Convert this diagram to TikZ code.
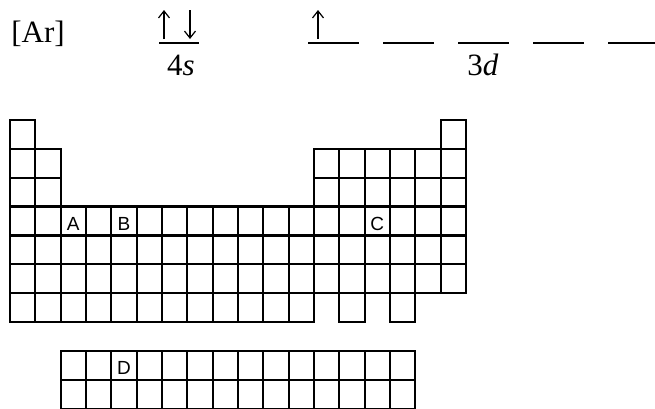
\documentclass[tikz,border=0pt]{standalone}
\usepackage{fontspec}
\setmainfont{Liberation Serif}
\newfontfamily\cellfont{Liberation Sans}
\usetikzlibrary{arrows.meta,positioning}

\tikzset{
  cell/.style={draw, line width=2.2pt, minimum width=25.33pt, minimum height=28.86pt, inner sep=0pt},
  letter/.style={font=\cellfont\fontsize{19}{19}\selectfont, inner sep=0pt, yshift=-3pt},
  orbital/.style={line width=1.4pt},
  spin/.style={line width=1.2pt, -{Straight Barb[length=7pt, width=11pt]}},
  shell/.style={font=\fontsize{31}{31}\selectfont, inner sep=0pt, anchor=base},
}

\begin{document}
\begin{tikzpicture}[x=1pt, y=-1pt]
  \useasboundingbox (0,0) rectangle (655,408);

  % Electron configuration
  \node[shell] (core) at (38,42) {[Ar]};
  \draw[orbital] (159,43) -- (199,43);
  \node[shell] (lbl4s) at (181,75) {4\textit{s}};
  \foreach \i in {0,...,4}
    \draw[orbital] ({308+75*\i},43) -- ++(51,0);
  \node[shell] (lbl3d) at (483,75) {3\textit{d}};

  % Spins
  \coordinate (s1a) at (164,39);
  \coordinate (s1b) at (164,10);
  \coordinate (s2a) at (190,10);
  \coordinate (s2b) at (190,39);
  \coordinate (d1a) at (318,39);
  \coordinate (d1b) at (318,10);
  \draw[spin] (s1a) -- (s1b);
  \draw[spin] (s2a) -- (s2b);
  \draw[spin] (d1a) -- (d1b);

  % Period 1
  \foreach \c in {1,18}
    \node[cell] (p1-\c) at ({10+25.33*(\c-0.5)},{120+28.86*0.5}) {};
  % Periods 2 and 3
  \foreach \r in {2,3}
    \foreach \c in {1,2,13,14,...,18}
      \node[cell] (p\r-\c) at ({10+25.33*(\c-0.5)},{120+28.86*(\r-0.5)}) {};
  % Periods 4 to 6
  \foreach \r in {4,5,6}
    \foreach \c in {1,...,18}
      \node[cell] (p\r-\c) at ({10+25.33*(\c-0.5)},{120+28.86*(\r-0.5)}) {};
  % Period 7
  \foreach \c in {1,...,12,14,16}
    \node[cell] (p7-\c) at ({10+25.33*(\c-0.5)},{120+28.86*6.5}) {};

  % f-block rows
  \foreach \r in {1,2}
    \foreach \c in {3,...,16}
      \node[cell] (f\r-\c) at ({10+25.33*(\c-0.5)},{351+28.86*(\r-0.5)}) {};

  % Marked cells
  \node[letter] (markA) at (p4-3) {A};
  \node[letter] (markB) at (p4-5) {B};
  \node[letter] (markC) at (p4-15) {C};
  \node[letter] (markD) at (f1-5) {D};
\end{tikzpicture}
\end{document}
